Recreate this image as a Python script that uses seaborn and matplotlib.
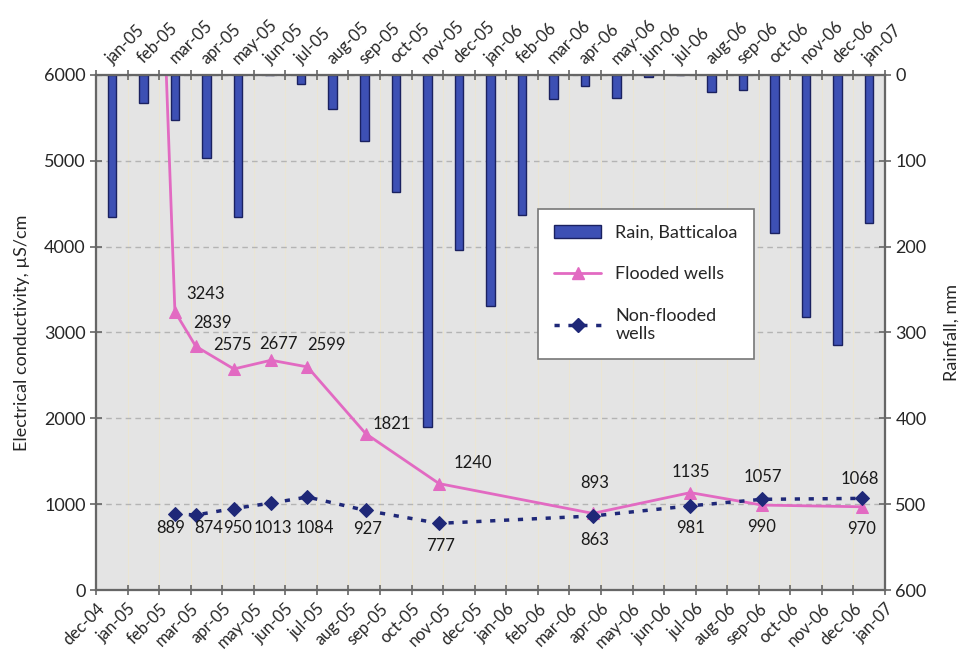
import pandas as pd
import matplotlib.pyplot as plt
import matplotlib.patches as mpatches
import matplotlib.lines as mlines
import seaborn as sns

# --- DATA ---
rain_months = ['jan-05', 'feb-05', 'mar-05', 'apr-05', 'may-05', 'jun-05', 'jul-05',
               'aug-05', 'sep-05', 'oct-05', 'nov-05', 'dec-05', 'jan-06', 'feb-06',
               'mar-06', 'apr-06', 'may-06', 'jun-06', 'jul-06', 'aug-06', 'sep-06',
               'oct-06', 'nov-06', 'dec-06', 'jan-07']
rain_mm = [165, 33, 52, 97, 165, 0, 10, 40, 77, 136, 410, 204, 269, 163,
           28, 13, 27, 2, 0, 20, 18, 184, 282, 315, 173]
axis_months = ['dec-04'] + rain_months

sample_dates = ['2005-02-01', '2005-02-15', '2005-03-06', '2005-04-12', '2005-05-18',
                '2005-06-22', '2005-08-18', '2005-10-28', '2006-03-24', '2006-06-26',
                '2006-09-04', '2006-12-09']
flooded = [8300, 3243, 2839, 2575, 2677, 2599, 1821, 1240, 893, 1135, 990, 970]
non_flooded = [None, 889, 874, 950, 1013, 1084, 927, 777, 863, 981, 1057, 1068]

# --- STYLE ---
pink = '#e26ac2'
navy = '#1f2878'
bar_color = '#3d50b4'
bar_edge = '#1a2160'
spine_col = '#666666'

# label offsets in points (dx, dy)
flood_off = [None, (22, 13), (12, 17), (-1, 17), (5, 12), (14, 16), (19, 7),
             (24, 15), (1, 22), (0, 15), (0, -16), (0, -16)]
non_off = [None, (-3, -10), (9, -9), (3, -14), (1, -18), (5, -22), (1, -13),
           (1, -16), (1, -17), (0, -16), (1, 16), (-1, 14)]

sns.set_style('white')
plt.rcParams['font.family'] = ['Lato', 'DejaVu Sans']

# month position along the axis (dec-04 = 0)
d = pd.to_datetime(pd.Series(sample_dates))
pos = (d.dt.year - 2004) * 12 + d.dt.month - 12 + (d.dt.day - 1) / d.dt.days_in_month
df = pd.DataFrame({'pos': pos, 'flooded': flooded, 'non_flooded': non_flooded})
bar_pos = [i + 0.5 for i in range(len(rain_months))]

fig = plt.figure(figsize=(9.65, 6.63), dpi=100)
ax = fig.add_axes([0.0995, 0.110, 0.8176, 0.777])
ax_r = ax.twinx()
ax.set_zorder(ax_r.get_zorder() + 1)
ax.patch.set_visible(False)
ax_r.patch.set_visible(True)
ax_r.set_facecolor('#e4e4e4')

# --- rain bars (right axis, inverted) ---
sns.barplot(x=bar_pos, y=rain_mm, native_scale=True, width=0.27, color=bar_color,
            saturation=1, edgecolor=bar_edge, linewidth=1.0, errorbar=None, ax=ax_r)
ax_r.set_ylim(600, 0)
ax_r.set_yticks(range(0, 601, 100))
ax_r.set_axisbelow(True)
ax_r.yaxis.grid(True, linestyle=(0, (4, 3)), color='#b4b4b4', lw=1)
ax_r.xaxis.set_visible(True)
ax_r.tick_params(axis='x', bottom=False, labelbottom=False, top=False, labeltop=False)
ax_r.xaxis.grid(True, color='#ebe5d3', lw=0.8)

# --- conductivity lines (left axis) ---
sns.lineplot(data=df, x='pos', y='flooded', color=pink, lw=2, marker='^', markersize=9,
             markeredgecolor=pink, ax=ax)
sns.lineplot(data=df.dropna(), x='pos', y='non_flooded', color=navy, lw=2.5,
             linestyle=(0, (1.5, 2.5)), marker='D', markersize=7, markeredgecolor=navy, ax=ax)

for x, v, off in zip(df['pos'], flooded, flood_off):
    if off is not None:
        ax.annotate(str(v), (x, v), xytext=off, textcoords='offset points',
                    ha='center', va='center', fontsize=12, color='#1a1a1a')
for x, v, off in zip(df['pos'], non_flooded, non_off):
    if off is not None:
        ax.annotate(str(v), (x, v), xytext=off, textcoords='offset points',
                    ha='center', va='center', fontsize=12, color='#1a1a1a')

# --- axes ---
ax.set_xlim(0, 25)
ax.set_ylim(0, 6000)
ax.set_yticks(range(0, 6001, 1000))
ax.set_xticks(range(26))
ax.set_xticklabels(axis_months, rotation=45, ha='right', va='top', rotation_mode='anchor')
ax.set_xlabel('')
ax.set_ylabel('Electrical conductivity, µS/cm', fontsize=13, labelpad=10)
ax_r.set_ylabel('Rainfall, mm', fontsize=13, labelpad=12)
ax_r.set_xlabel('')

# top category axis for the rain months: boundary ticks + rotated month names
top = ax.twiny()
top.set_xlim(0, 25)
top.set_xticks([])
top.set_xticks(range(26), minor=True)
top.tick_params(which='minor', length=7, direction='inout', color=spine_col, width=1.2,
                labeltop=False)
for p, name in zip(bar_pos, rain_months):
    top.annotate(name, xy=(p, 1), xycoords=('data', 'axes fraction'), xytext=(2, 6),
                 textcoords='offset points', rotation=45, ha='left', va='bottom',
                 rotation_mode='anchor', fontsize=12, annotation_clip=False)

ax.tick_params(axis='x', length=7, direction='inout', color=spine_col, width=1.2, labelsize=12, pad=4)
ax.tick_params(axis='y', length=8, direction='inout', color=spine_col, width=1.2, labelsize=13)
ax_r.tick_params(axis='y', length=8, direction='inout', color=spine_col, width=1.2, labelsize=13)

for a in (ax, ax_r, top):
    for s in a.spines.values():
        s.set_color(spine_col)
        s.set_linewidth(1.5)

# --- legend ---
handles = [
    mpatches.Patch(facecolor=bar_color, edgecolor=bar_edge, lw=1.0),
    mlines.Line2D([], [], color=pink, lw=2, marker='^', markersize=9),
    mlines.Line2D([], [], color=navy, lw=2.5, linestyle=(0, (1.5, 2.5)), marker='D', markersize=7),
]
labels = ['Rain, Batticaloa', 'Flooded wells', 'Non-flooded\nwells']
leg = top.legend(handles, labels, loc='upper left', bbox_to_anchor=(0.56, 0.74),
                 fontsize=13, frameon=True, fancybox=False, framealpha=1,
                 edgecolor='#777777', labelspacing=1.4, handlelength=2.6,
                 borderpad=0.9, borderaxespad=0)
leg.get_frame().set_linewidth(1.2)

fig.savefig('out.png', dpi=100)
